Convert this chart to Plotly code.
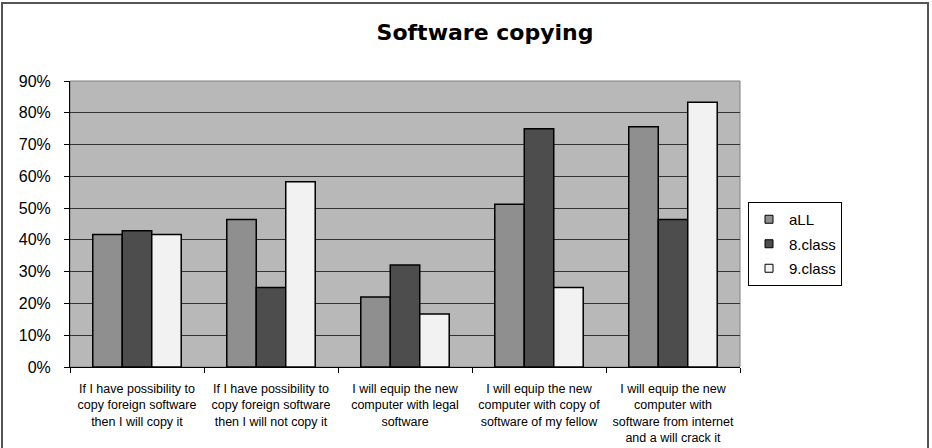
import plotly.graph_objects as go

categories = [
    "If I have possibility to<br>copy foreign software<br>then I will copy it",
    "If I have possibility to<br>copy foreign software<br>then I will not copy it",
    "I will equip the new<br>computer with legal<br>software",
    "I will equip the new<br>computer with copy of<br>software of my fellow",
    "I will equip the new<br>computer with<br>software from internet<br>and a will crack it",
]
series_names = ["aLL", "8.class", "9.class"]
all_vals = [0.417, 0.464, 0.22, 0.512, 0.756]
class8_vals = [0.429, 0.25, 0.321, 0.75, 0.464]
class9_vals = [0.417, 0.583, 0.167, 0.25, 0.833]
tick_vals = [0, 0.1, 0.2, 0.3, 0.4, 0.5, 0.6, 0.7, 0.8, 0.9]
tick_text = ["0%", "10%", "20%", "30%", "40%", "50%", "60%", "70%", "80%", "90%"]

colors = ["#8f8f8f", "#4d4d4d", "#f2f2f2"]
FONT = "Liberation Sans, Arial, sans-serif"

fig = go.Figure()
for name, vals, col in zip(series_names, [all_vals, class8_vals, class9_vals], colors):
    fig.add_trace(go.Bar(
        x=categories, y=vals, name=name, showlegend=False,
        marker=dict(color=col, line=dict(color="#000000", width=1.5)),
    ))
# legend entries with small square keys
for name, col in zip(series_names, colors):
    fig.add_trace(go.Scatter(
        x=[None], y=[None], name=name, mode="markers", legendgroup=name,
        marker=dict(symbol="square", size=8, color=col,
                    line=dict(color="#000000", width=1)),
    ))

L, R, T, B = 70, 192, 81, 81
W, H = 932, 448
pw, ph = W - L - R, H - T - B

def px_x(p):
    return (p - L) / pw

def px_y(p):
    return (H - B - p) / ph

fig.update_layout(
    width=W, height=H,
    margin=dict(l=L, r=R, t=T, b=B, autoexpand=False),
    paper_bgcolor="white",
    plot_bgcolor="#b8b8b8",
    barmode="group",
    bargap=0.34,
    bargroupgap=0,
    font=dict(family=FONT, color="#000000"),
    title=dict(
        text="<b>Software copying</b>",
        x=485 / W, xanchor="center",
        y=1 - 32 / H, yanchor="middle",
        font=dict(family="DejaVu Sans, Liberation Sans, Arial", size=22, color="#000000"),
    ),
    legend=dict(
        x=px_x(748), y=px_y(202), xanchor="left", yanchor="top",
        bordercolor="#000000", borderwidth=1,
        bgcolor="white",
        font=dict(family=FONT, size=15),
        tracegroupgap=2,
        entrywidth=80, entrywidthmode="pixels",
    ),
    xaxis=dict(
        showline=True, linecolor="#000000", linewidth=1,
        ticks="outside", tickson="boundaries", ticklen=5, tickcolor="#000000",
        tickfont=dict(family=FONT, size=12.5),
        tickangle=0, automargin=False,
        showgrid=False,
        ticklabelstandoff=10,
    ),
    yaxis=dict(
        range=[0, 0.9],
        tickvals=tick_vals, ticktext=tick_text,
        showline=True, linecolor="#000000", linewidth=1,
        ticks="outside", ticklen=5, tickcolor="#000000",
        tickfont=dict(family=FONT, size=16),
        automargin=False,
        showgrid=True, gridcolor="#333333", gridwidth=1,
        zeroline=False,
        ticklabelstandoff=10,
    ),
    shapes=[
        dict(type="rect", xref="paper", yref="paper",
             x0=0, x1=1, y0=0, y1=1,
             line=dict(color="#808080", width=1), layer="below"),
        dict(type="rect", xref="paper", yref="paper",
             x0=px_x(2), x1=px_x(928), y0=px_y(3), y1=px_y(460),
             line=dict(color="#555555", width=2)),
    ],
)

fig.write_html("out.html")
